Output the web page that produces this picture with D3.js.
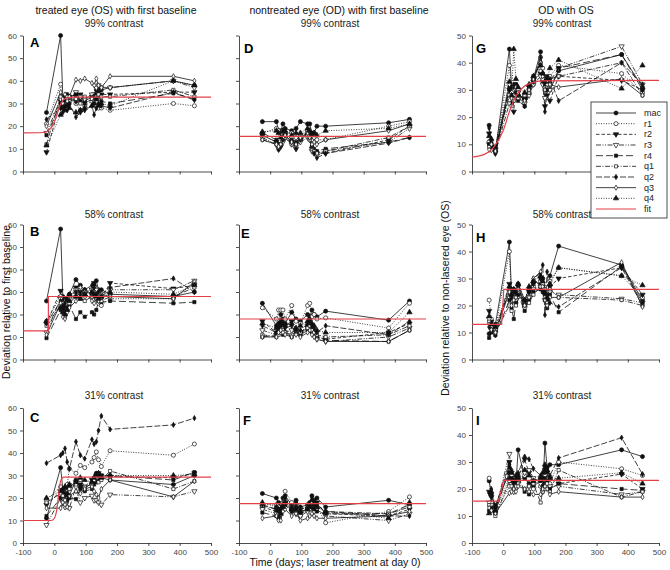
<!DOCTYPE html>
<html>
<head>
<meta charset="utf-8">
<script src="https://cdn.jsdelivr.net/npm/d3@7"></script>
<style>
body { margin: 0; background: #fff; }
svg { font-family: Arial, "Liberation Sans", sans-serif; }
</style>
</head>
<body>
<svg id="chart" width="670" height="570"></svg>
<script>
// series order everywhere: mac, r1, r2, r3, r4, q1, q2, q3, q4
const seriesNames = ["mac", "r1", "r2", "r3", "r4", "q1", "q2", "q3", "q4"];

const daysT = [-25, 20, 27, 34, 41, 48, 69, 83, 97, 120, 127, 134, 141, 150, 178, 380, 447];
const daysOS = [-45, -38, -25, 20, 27, 34, 41, 48, 69, 83, 97, 120, 127, 134, 141, 150, 178, 380, 447];

const xTicks = [-100, 0, 100, 200, 300, 400, 500];

// A: treated eye, 99%
const valsA = [
    [26, 60, 33, 32, 34, 33, 34, 33, 31, 33, 32, 36, 37, 36, 37, 40, 38],
    [21, 38.5, 27, 30, 28, 32, 30, 27, 29, 31, 30, 29, 28, 28, 27, 30, 29],
    [8.5, 31, 29, 32, 30, 33, 31, 34, 32, 33, 34, 34, 35, 34, 34, 35, 35],
    [17, 32, 28, 30, 33, 31, 35, 33, 32, 34, 33, 37, 38, 37, 37, 40, 37],
    [16, 30, 28, 31, 29, 30, 34, 31, 30, 32, 33, 32, 33, 31, 30, 34.5, 32],
    [12, 33, 30, 29, 32, 31, 32, 30, 33, 32, 31, 33, 34, 33, 33, 36, 33],
    [23, 28, 26, 29, 27, 30, 24, 26, 27, 29, 25, 28, 30, 29, 28, 35, 31.5],
    [20, 35, 32, 34, 31, 33, 40.5, 40, 41, 39, 38, 41, 38, 37, 42, 42, 40],
    [11.5, 25, 28, 27, 29, 28, 26, 27, 28, 29, 30, 32, 29, 30, 29, 40, 38]
];
// B: treated eye, 58%
const valsB = [
    [26, 58, 28, 24, 27, 29, 35.5, 33, 31, 29, 33, 35, 31, 31, 29, 28, 30],
    [17, 28, 22, 20, 24, 26, 30, 31, 28, 28, 30, 27, 25, 24, 27, 27, 34],
    [16, 30.5, 27, 23, 26, 28, 32, 30, 29, 31, 34, 30, 28, 27, 34, 31.5, 33],
    [12, 27, 25, 22, 25, 27, 31, 29, 30, 31, 32, 31, 29, 28, 31, 31, 35],
    [9.5, 22, 23, 22, 23, 24, 18, 21, 19, 21, 20, 22, 26, 25.5, 26, 25, 25.5],
    [15, 24, 21, 19, 22, 25, 28, 27, 26, 28, 30, 28, 27, 26, 28, 28, 32],
    [16, 26, 24, 25, 27, 29, 30, 29, 31, 33, 32, 29, 30, 29, 32, 36, 30],
    [11, 25, 19, 18, 21, 23, 26, 32, 30, 26, 25, 27, 26, 29, 28, 27, 34.5],
    [17, 23, 21, 20, 22, 26, 28, 27, 29, 30, 29, 28, 27, 28, 30, 29, 33]
];
// C: treated eye, 31%
const valsC = [
    [11, 33.5, 24, 22, 20, 21, 28, 25, 24, 27, 29, 31, 30, 29, 28, 26, 30],
    [19, 25, 22, 20, 26, 33, 31, 34.5, 33.5, 36, 38, 40.5, 37, 34, 41, 39, 44],
    [17, 23, 22, 21, 24, 25, 27, 26, 25, 28, 27, 30, 31, 30, 29.5, 29, 31],
    [8, 20, 18, 16, 19, 15.5, 25, 18, 20, 21, 19, 19, 18, 17, 21.5, 20.5, 23],
    [12, 20, 21, 22, 19, 20, 19.5, 24, 23, 24, 26, 27, 28, 30, 30, 28, 31.5],
    [18, 22, 21, 19, 23, 24, 26, 28, 25, 26, 28, 29, 27, 28, 32, 24, 27.5],
    [35.5, 39, 40, 42, 36, 33, 45, 39, 37.5, 46, 44, 45, 50, 56.5, 50.5, 52.5, 55.5],
    [15.5, 15.5, 18, 17, 16, 21, 23, 22, 24, 25, 23, 21.5, 20, 24, 28, 20.5, 27.5],
    [20, 23, 24, 25, 22, 26, 27, 29, 28, 27, 29, 30, 31, 29, 30, 30, 30.5]
];
// D: nontreated eye, 99%
const valsD = [
    [22, 22, 18, 18, 21, 19, 18, 19, 22, 21, 21, 17, 17, 20, 20, 21.5, 23],
    [17, 19, 18, 16, 18, 17, 17, 15, 16, 18, 16, 14, 15, 14, 14, 20, 22],
    [16, 13, 11, 12, 14, 16, 13, 12, 14, 16, 15, 10, 9, 8, 8, 14, 20],
    [15, 12, 10, 11, 13, 15, 12, 10, 13, 15, 14, 9, 8, 7, 9, 13, 19],
    [17, 14, 12, 12, 15, 17, 14, 13, 15, 17, 16, 11, 10, 9, 10, 13, 15],
    [14, 12, 10, 12, 14, 15, 12, 11, 14, 16, 14, 10, 9, 8, 9, 15, 20],
    [16, 13, 9.5, 11, 14, 16, 13, 10, 14, 17, 15, 11, 8, 6, 8, 12.5, 15],
    [14, 12, 11, 12, 15, 16, 13, 12, 15, 17, 15, 12, 13, 12, 14, 18, 21],
    [17.5, 18, 17, 15, 18, 18, 16, 17, 17, 19, 18, 16, 17, 16, 18, 19, 21]
];
// E: nontreated eye, 58%
const valsE = [
    [25, 15, 16, 20, 18, 16, 21, 18, 17, 20, 19, 22, 20, 19, 21.5, 17.5, 26],
    [23, 18, 22, 22, 22, 18, 24, 17, 16, 24, 25, 19, 20, 18, 18.5, 14, 25],
    [17, 12, 14, 16, 14, 15, 17, 13, 12, 15, 14, 13, 12, 10, 9, 12, 16],
    [13, 11, 12, 13, 14, 12, 13, 12, 11, 14, 15, 12, 11, 9, 8, 10, 14],
    [10, 11, 12, 13, 11, 12, 10, 13, 11, 13, 14, 12, 11, 10, 8.5, 8, 13],
    [11, 10, 11, 12, 13, 12, 11, 12, 12, 14, 15, 13, 12, 11, 10, 11, 15],
    [15, 12, 13, 15, 16, 14, 15, 12, 13, 16, 17, 15, 14, 12, 15, 11, 17],
    [10, 10, 12, 13, 12, 11, 10, 11, 10, 12, 13, 11, 10, 9, 8, 8, 13],
    [16, 14, 15, 17, 16, 15, 16, 14, 15, 17, 18, 16, 15, 13, 12, 12, 21]
];
// F: nontreated eye, 31%
const valsF = [
    [22, 20, 18, 16, 20, 21, 17, 19, 16, 17, 18, 21, 19, 20, 16, 19, 17],
    [17, 17, 16, 15, 18, 23, 18, 16, 12, 15, 16, 17, 15, 16, 9, 14, 20.5],
    [16, 14, 12, 14, 16, 18, 15, 14, 13, 15, 16, 17, 16, 18, 13, 12, 15],
    [15, 13, 11, 13, 15, 17, 14, 13, 12, 14, 15, 16, 14, 15, 12, 10, 13],
    [13.5, 12, 11, 15, 16, 17, 14, 15, 14, 15, 17, 16, 15, 14, 13, 13, 17],
    [16.5, 15, 13, 14, 17, 19, 16, 17, 15, 16, 17, 18, 17, 16, 14, 13, 16],
    [17, 15, 14, 15, 17, 20, 16, 18, 15, 16, 17, 20.5, 18, 17, 14, 12, 12],
    [11, 12, 10, 10, 14, 15, 12, 13, 10, 11, 12, 13, 12, 11, 11, 12, 14],
    [18, 16, 15, 13, 16, 18, 15, 16, 14, 15, 16, 19, 17, 16, 14, 11, 18]
];
// G: OD with OS, 99%
const valsG = [
    [17, 9, 7.5, 45, 31, 31, 32, 28, 27, 30, 34, 44, 35, 30, 34, 30, 37, 43, 31],
    [11, 10, 8, 39, 29, 28, 30, 27, 28, 29, 32, 42, 38, 31, 33, 35, 39, 36, 29],
    [14, 9, 7, 30, 25, 22, 31, 29, 26, 31, 33, 36, 33, 24, 28, 26, 35, 33.5, 30],
    [10, 8, 8, 28, 31, 27, 30, 30, 25, 28, 32, 35, 32, 27, 32, 30, 38, 46, 32],
    [10, 9, 7.5, 31, 25, 28, 32, 26, 24, 29, 35, 40, 36, 32, 35, 33, 38, 43, 30],
    [9, 10, 7, 25, 24, 26, 28, 27, 28, 29, 33, 37, 34, 30, 31, 34, 35, 40, 28],
    [16, 11, 6.5, 30, 31, 32, 29, 28, 24, 31, 33, 42, 36, 22, 30, 34, 26, 40, 32],
    [8, 10, 7.5, 32, 27, 28, 31, 29, 26, 30, 34, 40, 35, 30, 32, 32, 31, 34, 28],
    [13, 12, 9, 33, 28, 45, 34, 31, 29, 32, 35, 39, 36, 33, 34, 38, 41, 30.5, 39]
];
// H: OD with OS, 58%
const valsH = [
    [9.5, 12, 13, 43.5, 24, 26, 22, 28, 22, 26, 29, 28, 30, 24, 21, 31, 42, 35, 22],
    [22, 15, 11, 40, 22, 25, 21, 26, 21, 24, 27, 29, 28, 26, 23, 29, 34, 31, 23],
    [18, 14, 10, 28, 26, 24, 22, 27, 20, 25, 28, 30, 27, 24, 22, 27, 30, 34, 24],
    [15, 13, 12, 25, 23, 24, 22, 25, 19, 23, 26, 27, 26, 22, 20, 25, 24, 22.5, 21],
    [8, 10, 9, 22, 19, 15, 21, 24, 18, 22, 25, 26, 25, 22, 19, 24, 17.5, 34.5, 21],
    [14, 12, 10, 20, 18, 23, 20, 25, 20, 21, 24, 27, 28, 23, 21, 26, 23, 22, 20],
    [12, 11, 9, 27, 23, 25, 24, 27, 21, 25, 30, 32, 35, 16.5, 32.5, 21, 19.5, 34, 20],
    [13, 11, 10, 25, 20, 22, 23, 26, 20, 23, 30, 32.5, 27, 22, 20, 23, 23, 36, 19.5],
    [16, 13, 12, 27, 24, 26, 25, 28, 22, 27, 29, 31, 29, 25, 23, 28, 34, 31, 27.5]
];
// I: OD with OS, 31%
const valsI = [
    [23, 18, 14, 26, 23, 21, 22, 34.5, 24, 22, 21, 23, 20, 37, 28, 29, 29, 34.5, 32],
    [24, 15, 11, 21, 22, 20, 21, 23, 25, 21, 20, 21, 22, 25, 24, 22, 30, 27.5, 25],
    [19, 17, 13, 30, 26, 22, 23, 24, 31, 26, 23, 24, 22, 27, 26, 24, 22, 25.5, 20],
    [15, 14, 12, 33, 25, 19, 20, 22, 26, 27, 24, 22, 19, 25, 23, 21, 21, 18, 19],
    [12, 13, 11, 28, 24, 21, 22, 25, 19, 18, 22, 23, 21, 24, 23, 20, 22, 20, 19.5],
    [14, 12, 10, 23, 21, 20, 21, 22, 20, 21, 22, 15, 19, 20, 22, 19, 27, 17, 19],
    [18.5, 20, 12, 29, 27, 23, 24, 26, 32, 31, 27.5, 25, 24, 28, 27, 25, 31.5, 39, 25.5],
    [13, 12, 11, 18.5, 19, 20, 19, 21, 20, 19, 18, 18, 20, 21, 20, 18, 19, 17, 17],
    [11, 19, 12, 24, 26, 23, 25, 24, 27, 25, 23, 24, 26, 29, 27, 24, 24, 26, 22]
];

// fit curves as [day, value]
const fitA = [[-100, 17], [-35, 17.2], [-20, 18], [-4, 20.6], [8, 25], [17, 28.8], [28, 31.5], [40, 32.5], [60, 32.8], [500, 32.8]];
const fitB = [[-100, 12.7], [-19, 12.7], [-19, 28], [500, 28]];
const fitC = [[-100, 10], [-10, 10], [0, 11], [8, 15], [14, 22], [20, 27.5], [30, 29.3], [500, 29.3]];
const fitD = [[-100, 15.5], [500, 15.5]];
const fitE = [[-100, 18], [500, 18]];
const fitF = [[-100, 17.5], [500, 17.5]];
const fitG = [[-100, 5.3], [-60, 6.3], [-30, 9], [0, 15], [20, 22], [40, 27.5], [60, 30.5], [90, 32.6], [130, 33.3], [500, 33.5]];
const fitH = [[-100, 13], [-5, 13], [2, 26], [500, 26]];
const fitI = [[-100, 15.5], [-15, 15.5], [2, 23.2], [500, 23.2]];

const colTitles = ["treated eye (OS) with first baseline", "nontreated eye (OD) with first baseline", "OD with OS"];
const rowTitles = ["99% contrast", "58% contrast", "31% contrast"];

const svg = d3.select("#chart");

const colX = [[23, 211], [239, 426], [472, 659]];
const rowY = [[171.5, 35.5], [359.5, 224.5], [543, 408]];
const titleX = [116, 339, 566];
const subX = [114, 330, 562];
const subY = [27, 218, 399];

const symTri = d3.symbolTriangle;
const styles = [
    {dash: null, sym: d3.symbolCircle, fill: true, rot: 0},
    {dash: "1,1.5", sym: d3.symbolCircle, fill: false, rot: 0},
    {dash: "3.5,2", sym: symTri, fill: true, rot: 180},
    {dash: "5,1.5,1,1.5,1,1.5", sym: symTri, fill: false, rot: 180},
    {dash: "7,3", sym: d3.symbolSquare, fill: true, rot: 0},
    {dash: "5,1.5,1,1.5", sym: d3.symbolSquare, fill: false, rot: 0},
    {dash: "6,2", sym: d3.symbolDiamond, fill: true, rot: 0},
    {dash: null, sym: d3.symbolDiamond, fill: false, rot: 0},
    {dash: "1,1.5", sym: symTri, fill: true, rot: 0}
];
const fitColor = "#e5404a";

const panels = [
    {id: "A", col: 0, row: 0, days: daysT, vals: valsA, fit: fitA, smooth: true, yMax: 60, lx: 30, ly: 47},
    {id: "B", col: 0, row: 1, days: daysT, vals: valsB, fit: fitB, smooth: false, yMax: 60, lx: 30, ly: 236},
    {id: "C", col: 0, row: 2, days: daysT, vals: valsC, fit: fitC, smooth: true, yMax: 60, lx: 30, ly: 422},
    {id: "D", col: 1, row: 0, days: daysT, vals: valsD, fit: fitD, smooth: false, yMax: 60, lx: 244, ly: 53},
    {id: "E", col: 1, row: 1, days: daysT, vals: valsE, fit: fitE, smooth: false, yMax: 60, lx: 241, ly: 238},
    {id: "F", col: 1, row: 2, days: daysT, vals: valsF, fit: fitF, smooth: false, yMax: 60, lx: 243, ly: 425},
    {id: "G", col: 2, row: 0, days: daysOS, vals: valsG, fit: fitG, smooth: true, yMax: 50, lx: 476, ly: 53},
    {id: "H", col: 2, row: 1, days: daysOS, vals: valsH, fit: fitH, smooth: false, yMax: 50, lx: 476, ly: 242},
    {id: "I", col: 2, row: 2, days: daysOS, vals: valsI, fit: fitI, smooth: false, yMax: 50, lx: 476, ly: 425}
];

function marker(st) {
    let size = 12;
    if (st.sym === d3.symbolCircle) size = 13;
    if (st.sym === d3.symbolDiamond) size = 8;
    if (st.sym === d3.symbolSquare) size = 10;
    return d3.symbol().type(st.sym).size(size)();
}

panels.forEach(p => {
    const x = d3.scaleLinear().domain([-100, 500]).range(colX[p.col]);
    const y = d3.scaleLinear().domain([0, p.yMax]).range(rowY[p.row]);
    const g = svg.append("g");

    const yAxis = d3.axisLeft(y).ticks(p.yMax / 10).tickSize(3).tickSizeOuter(0).tickPadding(3);
    if (p.col === 1) yAxis.tickFormat("");
    g.append("g").attr("transform", `translate(${colX[p.col][0]},0)`).call(yAxis);

    const xAxis = d3.axisBottom(x).tickValues(xTicks).tickSize(3).tickSizeOuter(0).tickPadding(3)
        .tickFormat(d => String(d));
    if (p.row < 2) xAxis.tickFormat("");
    g.append("g").attr("transform", `translate(0,${rowY[p.row][0]})`).call(xAxis);

    g.selectAll(".domain, .tick line").attr("stroke", "#222").attr("stroke-width", 0.8);
    g.selectAll(".tick text").attr("font-size", 8).attr("fill", "#444")
        .attr("font-family", "Arial, 'Liberation Sans', sans-serif");

    const line = d3.line().x((d, i) => x(p.days[i])).y(d => y(d));

    p.vals.forEach((vals, k) => {
        const st = styles[k];
        g.append("path")
            .attr("d", line(vals))
            .attr("fill", "none")
            .attr("stroke", "#111")
            .attr("stroke-width", 0.8)
            .attr("stroke-dasharray", st.dash);
    });

    p.vals.forEach((vals, k) => {
        const st = styles[k];
        g.selectAll(null).data(vals).enter().append("path")
            .attr("d", marker(st))
            .attr("transform", (d, i) => `translate(${x(p.days[i])},${y(d)}) rotate(${st.rot})`)
            .attr("fill", st.fill ? "#111" : "#fff")
            .attr("stroke", "#111")
            .attr("stroke-width", 0.7);
    });

    const fitLine = d3.line().x(d => x(d[0])).y(d => y(d[1]))
        .curve(p.smooth ? d3.curveMonotoneX : d3.curveLinear);
    g.append("path")
        .attr("d", fitLine(p.fit))
        .attr("fill", "none")
        .attr("stroke", fitColor)
        .attr("stroke-width", 1.2);

    g.append("text")
        .attr("x", p.lx).attr("y", p.ly)
        .attr("font-size", 13).attr("font-weight", "bold")
        .text(p.id);

    g.append("text")
        .attr("x", subX[p.col]).attr("y", subY[p.row])
        .attr("text-anchor", "middle").attr("font-size", 10).attr("fill", "#222")
        .text(rowTitles[p.row]);
});

colTitles.forEach((t, i) => {
    svg.append("text")
        .attr("x", titleX[i]).attr("y", 14)
        .attr("text-anchor", "middle").attr("font-size", 10.5).attr("fill", "#111")
        .text(t);
});

svg.append("text")
    .attr("x", 335).attr("y", 566)
    .attr("text-anchor", "middle").attr("font-size", 10.5).attr("fill", "#111")
    .text("Time (days; laser treatment at day 0)");

svg.append("text")
    .attr("transform", "translate(10,302) rotate(-90)")
    .attr("text-anchor", "middle").attr("font-size", 10.5).attr("fill", "#111")
    .text("Deviation relative to first baseline");

svg.append("text")
    .attr("transform", "translate(449,298) rotate(-90)")
    .attr("text-anchor", "middle").attr("font-size", 10.5).attr("fill", "#111")
    .text("Deviation relative to non-lasered eye (OS)");

// legend
const leg = svg.append("g");
leg.append("rect")
    .attr("x", 591).attr("y", 102).attr("width", 76).attr("height", 116)
    .attr("fill", "#fff").attr("stroke", "#222").attr("stroke-width", 0.8);

const legY = d3.scalePoint().domain(seriesNames.concat(["fit"])).range([113, 209]);

seriesNames.forEach((name, k) => {
    const st = styles[k];
    const yy = legY(name);
    leg.append("line")
        .attr("x1", 596).attr("x2", 636).attr("y1", yy).attr("y2", yy)
        .attr("stroke", "#111").attr("stroke-width", 0.8)
        .attr("stroke-dasharray", st.dash);
    leg.append("path")
        .attr("d", marker(st))
        .attr("transform", `translate(616,${yy}) rotate(${st.rot})`)
        .attr("fill", st.fill ? "#111" : "#fff")
        .attr("stroke", "#111").attr("stroke-width", 0.7);
    leg.append("text")
        .attr("x", 644).attr("y", yy + 3)
        .attr("font-size", 9).attr("fill", "#222")
        .text(name);
});
leg.append("line")
    .attr("x1", 596).attr("x2", 636).attr("y1", legY("fit")).attr("y2", legY("fit"))
    .attr("stroke", fitColor).attr("stroke-width", 1.2);
leg.append("text")
    .attr("x", 644).attr("y", legY("fit") + 3)
    .attr("font-size", 9).attr("fill", "#222")
    .text("fit");
</script>
</body>
</html>
